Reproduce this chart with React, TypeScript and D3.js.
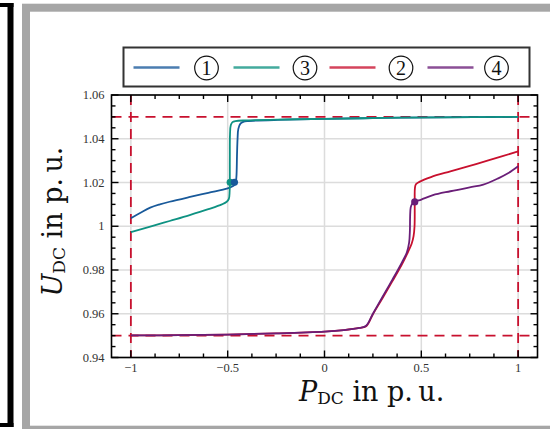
import React from 'react';
import * as d3 from 'd3';

// series data (P_DC in p.u., U_DC in p.u.)
const s1X = [-1, -0.95, -0.9, -0.85, -0.8, -0.7, -0.6, -0.5, -0.47, -0.46, -0.455, -0.452, -0.449, -0.445, -0.435, -0.42, -0.4, -0.2, 0, 0.3, 0.6, 1];
const s1Y = [1.0037, 1.0062, 1.0085, 1.0100, 1.0112, 1.0133, 1.0153, 1.0173, 1.0185, 1.0195, 1.0225, 1.032, 1.040, 1.0445, 1.0468, 1.0477, 1.0481, 1.0487, 1.0491, 1.0495, 1.0498, 1.05];

const s3X = [-1, -0.9, -0.8, -0.7, -0.6, -0.53, -0.505, -0.494, -0.49, -0.489, -0.488, -0.484, -0.475, -0.46, -0.4, -0.2, 0, 0.3, 0.6, 1];
const s3Y = [0.9973, 0.9998, 1.0024, 1.0050, 1.0078, 1.0100, 1.0112, 1.0125, 1.016, 1.030, 1.042, 1.0462, 1.0476, 1.0481, 1.0484, 1.0488, 1.0491, 1.0495, 1.0498, 1.05];

const s2X = [-1, -0.75, -0.5, -0.25, 0, 0.1, 0.18, 0.215, 0.25, 0.3, 0.35, 0.4, 0.43, 0.45, 0.46, 0.465, 0.466, 0.467, 0.472, 0.49, 0.55, 0.65, 0.75, 0.85, 1];
const s2Y = [0.9501, 0.9502, 0.9505, 0.9510, 0.9518, 0.9525, 0.9535, 0.9543, 0.9598, 0.9672, 0.9748, 0.9826, 0.9880, 0.9920, 0.9955, 1.000, 1.010, 1.0175, 1.0192, 1.0203, 1.0225, 1.0251, 1.0276, 1.0302, 1.0342];

const s4X = [-1, -0.75, -0.5, -0.25, 0, 0.1, 0.18, 0.215, 0.25, 0.3, 0.35, 0.4, 0.425, 0.437, 0.441, 0.442, 0.445, 0.452, 0.466, 0.5, 0.56, 0.65, 0.75, 0.82, 0.9, 0.95, 1];
const s4Y = [0.9501, 0.9502, 0.9505, 0.9510, 0.9518, 0.9525, 0.9535, 0.9545, 0.9600, 0.9678, 0.9755, 0.9835, 0.9880, 0.9925, 0.998, 1.004, 1.0085, 1.0102, 1.0111, 1.0122, 1.0142, 1.0160, 1.0178, 1.0190, 1.0220, 1.0243, 1.0274];

// operating point markers
const markerX = [-0.487, -0.465, 0.466];
const markerY = [1.0201, 1.0201, 1.0111];
const markerSeries = [1, 0, 3];

const seriesNames = ['1', '3', '2', '4'];
const seriesColors = ['#18599a', '#0e9282', '#c8102e', '#6a1e78'];

const limitsX = [-1, 1];
const limitsY = [0.95, 1.05];

const xTicks = [-1, -0.5, 0, 0.5, 1];
const xTickLabels = ['\u22121', '\u22120.5', '0', '0.5', '1'];
const yTicks = [0.94, 0.96, 0.98, 1, 1.02, 1.04, 1.06];
const yTickLabels = ['0.94', '0.96', '0.98', '1', '1.02', '1.04', '1.06'];

const W = 550;
const H = 429;
const left = 111.5, right = 537.5, top = 95, bottom = 357.5;

const App = () => {
  const x = d3.scaleLinear().domain([-1.1, 1.1]).range([left, right]);
  const y = d3.scaleLinear().domain([0.94, 1.06]).range([bottom, top]);

  const series = [
    { xs: s1X, ys: s1Y },
    { xs: s3X, ys: s3Y },
    { xs: s2X, ys: s2Y },
    { xs: s4X, ys: s4Y },
  ];

  const line = d3.line<[number, number]>()
    .x(d => x(d[0]))
    .y(d => y(d[1]))
    .curve(d3.curveCatmullRom.alpha(0.5));

  const xMinor = d3.range(-1, 1.0001, 0.125).filter(v => !xTicks.some(t => Math.abs(t - v) < 1e-6));
  const yMinor = d3.range(0.94, 1.0601, 0.005).filter(v => !yTicks.some(t => Math.abs(t - v) < 1e-6));

  const legendLineStart = [133.5, 233.5, 329.5, 427.5];
  const legendCircle = [206.5, 305, 401, 496.5];
  const legendY = 67.5;

  const serif = '"Liberation Serif", serif';
  const titleFont = '"DejaVu Serif", serif';

  return (
    <svg width={W} height={H} style={{ position: 'absolute', left: 0, top: 0, display: 'block', background: '#fff' }}>
      {/* page frame */}
      <rect x={0} y={3} width={13.5} height={4} fill="#000" />
      <rect x={7.5} y={3} width={6} height={424} fill="#000" />
      <rect x={0} y={423} width={13.5} height={4} fill="#000" />
      <rect x={26} y={7.7} width={600} height={422} fill="none" stroke="#a6a6a6" strokeWidth={8} />

      {/* grid */}
      <g stroke="#dcdcdc" strokeWidth={1.5}>
        {xTicks.map(t => <line key={'gx' + t} x1={x(t)} x2={x(t)} y1={top} y2={bottom} />)}
        {yTicks.map(t => <line key={'gy' + t} x1={left} x2={right} y1={y(t)} y2={y(t)} />)}
      </g>

      {/* limits */}
      <g stroke="#c8102e" strokeWidth={1.8} strokeDasharray="10 7" fill="none">
        {limitsY.map(v => <line key={'ly' + v} x1={left} x2={right} y1={y(v)} y2={y(v)} />)}
        {limitsX.map(v => <line key={'lx' + v} x1={x(v)} x2={x(v)} y1={top} y2={bottom} />)}
      </g>

      {/* curves */}
      {series.map((s, i) => (
        <path key={'s' + i} d={line(s.xs.map((v, j) => [v, s.ys[j]] as [number, number])) || ''}
          fill="none" stroke={seriesColors[i]} strokeWidth={1.8} />
      ))}
      {markerX.map((v, i) => (
        <circle key={'m' + i} cx={x(v)} cy={y(markerY[i])} r={3.6} fill={seriesColors[markerSeries[i]]} />
      ))}

      {/* axes box and ticks */}
      <g stroke="#000" strokeWidth={1.4}>
        {xTicks.map(t => (
          <g key={'tx' + t}>
            <line x1={x(t)} x2={x(t)} y1={bottom} y2={bottom - 7} />
            <line x1={x(t)} x2={x(t)} y1={top} y2={top + 7} />
          </g>
        ))}
        {xMinor.map(t => (
          <g key={'mx' + t}>
            <line x1={x(t)} x2={x(t)} y1={bottom} y2={bottom - 4} />
            <line x1={x(t)} x2={x(t)} y1={top} y2={top + 4} />
          </g>
        ))}
        {yTicks.map(t => (
          <g key={'ty' + t}>
            <line x1={left} x2={left + 7} y1={y(t)} y2={y(t)} />
            <line x1={right} x2={right - 7} y1={y(t)} y2={y(t)} />
          </g>
        ))}
        {yMinor.map(t => (
          <g key={'my' + t}>
            <line x1={left} x2={left + 4} y1={y(t)} y2={y(t)} />
            <line x1={right} x2={right - 4} y1={y(t)} y2={y(t)} />
          </g>
        ))}
        <rect x={left} y={top} width={right - left} height={bottom - top} fill="none" strokeWidth={1.6} />
      </g>

      {/* tick labels */}
      <g fontFamily={serif} fontSize={12.5} fill="#333">
        {xTicks.map((t, i) => (
          <text key={'lx' + t} x={x(t)} y={372} textAnchor="middle">{xTickLabels[i]}</text>
        ))}
        {yTicks.map((t, i) => (
          <text key={'ly' + t} x={104.5} y={y(t)} dy="0.33em" textAnchor="end">{yTickLabels[i]}</text>
        ))}
      </g>

      {/* axis titles */}
      <text x={299} y={401} fontFamily={titleFont} fontSize={27} fill="#111">
        <tspan fontStyle="italic">P</tspan>
        <tspan fontSize={17} dy={3}>DC</tspan>
        <tspan dy={-3}>{' in p.\u2009u.'}</tspan>
      </text>
      <text transform="translate(62,221.5) rotate(-90)" textAnchor="middle" fontFamily={titleFont} fontSize={27} fill="#111">
        <tspan fontStyle="italic">U</tspan>
        <tspan fontSize={17} dy={3}>DC</tspan>
        <tspan dy={-3}>{' in p.\u2009u.'}</tspan>
      </text>

      {/* legend */}
      <rect x={123.5} y={47.5} width={406} height={39} fill="#fff" stroke="#333" strokeWidth={2} />
      {seriesNames.map((n, i) => (
        <g key={'lg' + n}>
          <line x1={legendLineStart[i]} x2={legendLineStart[i] + 46} y1={legendY} y2={legendY}
            stroke={seriesColors[i]} strokeOpacity={0.78} strokeWidth={2.6} />
          <circle cx={legendCircle[i]} cy={legendY + 0.5} r={11.8} fill="none" stroke="#111" strokeWidth={1.2} />
          <text x={legendCircle[i]} y={legendY + 7.5} textAnchor="middle" fontFamily={serif} fontSize={20} fill="#111">{n}</text>
        </g>
      ))}
    </svg>
  );
};

export default App;
